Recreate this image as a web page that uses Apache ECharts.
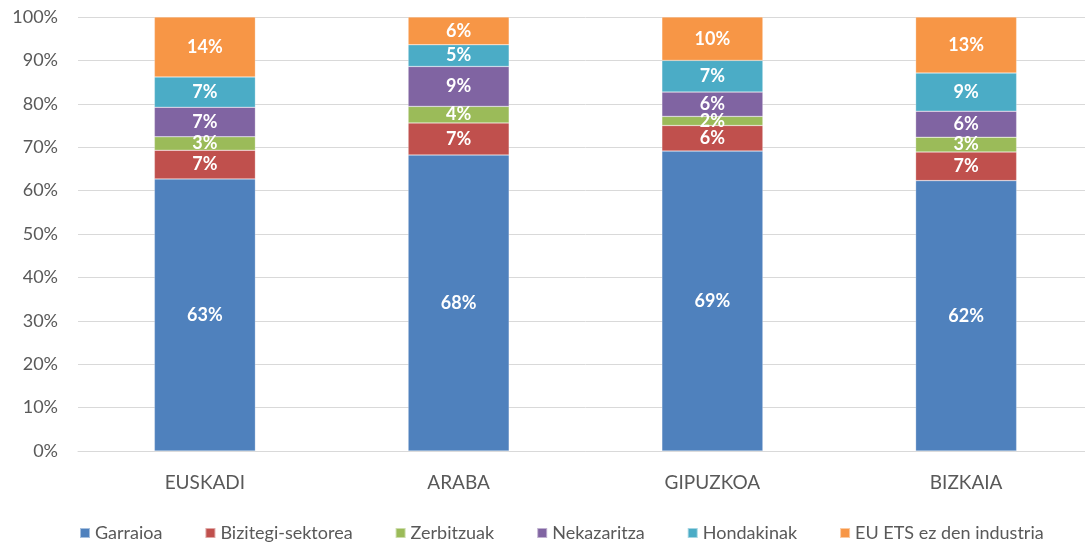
<!DOCTYPE html>
<html>
<head>
<meta charset="utf-8">
<script src="https://cdn.jsdelivr.net/npm/echarts@6/dist/echarts.min.js"></script>
<style>
  html, body { margin: 0; padding: 0; background: #fff; overflow: hidden; }
  #chart { width: 1100px; height: 546px; }
</style>
</head>
<body>
<div id="chart"></div>
<script>
// eskualdeak
let categories = ['EUSKADI', 'ARABA', 'GIPUZKOA', 'BIZKAIA']

// sektore bakoitzaren portzentaiak (irudiatik irakurrita)
let garraioa = [62.7, 68.2, 69.1, 62.3]
let bizitegi = [6.6, 7.4, 5.9, 6.6]
let zerbitzuak = [3.1, 3.8, 2.1, 3.4]
let nekazaritza = [6.8, 9.2, 5.6, 6.0]
let hondakinak = [7.0, 5.0, 7.3, 8.8]
let industria = [13.8, 6.4, 10.0, 12.9]

let seriesNames = ['Garraioa', 'Bizitegi-sektorea', 'Zerbitzuak', 'Nekazaritza', 'Hondakinak', 'EU ETS ez den industria']
let seriesData = [garraioa, bizitegi, zerbitzuak, nekazaritza, hondakinak, industria]
let colors = ['#4f81bd', '#c0504d', '#9bbb59', '#8064a2', '#4bacc6', '#f79646']

let font = 'Lato, "Open Sans", sans-serif'

// grafikoa leihoa baino zabalagoa da pixka bat (eskuineko ertza moztuta dago jatorrizkoan)
let chart = echarts.init(document.getElementById('chart'))

let option = {
  animation: false,
  color: colors,
  textStyle: { fontFamily: font },
  grid: { left: 78, top: 17, width: 1015, height: 434, containLabel: false },
  legend: {
    bottom: -1,
    left: 74,
    itemWidth: 10,
    itemHeight: 10,
    itemGap: 42,
    icon: 'rect',
    textStyle: { color: '#595959', fontSize: 18, fontFamily: font }
  },
  xAxis: {
    type: 'category',
    data: categories,
    axisLine: { lineStyle: { color: '#d9d9d9' } },
    axisTick: { show: false },
    axisLabel: { color: '#595959', fontSize: 19, margin: 22 }
  },
  yAxis: {
    type: 'value',
    min: 0,
    max: 100,
    interval: 10,
    axisLabel: { color: '#595959', fontSize: 18, margin: 20, formatter: '{value}%' },
    splitLine: { lineStyle: { color: '#d9d9d9', width: 1 } },
    axisLine: { show: false }
  },
  series: seriesNames.map(function (name, i) {
    return {
      name: name,
      type: 'bar',
      stack: 'total',
      barWidth: 101,
      data: seriesData[i],
      itemStyle: { borderColor: 'rgba(255,255,255,0.5)', borderWidth: 0.5 },
      label: {
        show: true,
        position: 'inside',
        color: '#fff',
        fontWeight: 'bold',
        fontSize: 18,
        formatter: function (p) { return Math.round(p.value) + '%' }
      }
    }
  })
}

chart.setOption(option)
</script>
</body>
</html>
